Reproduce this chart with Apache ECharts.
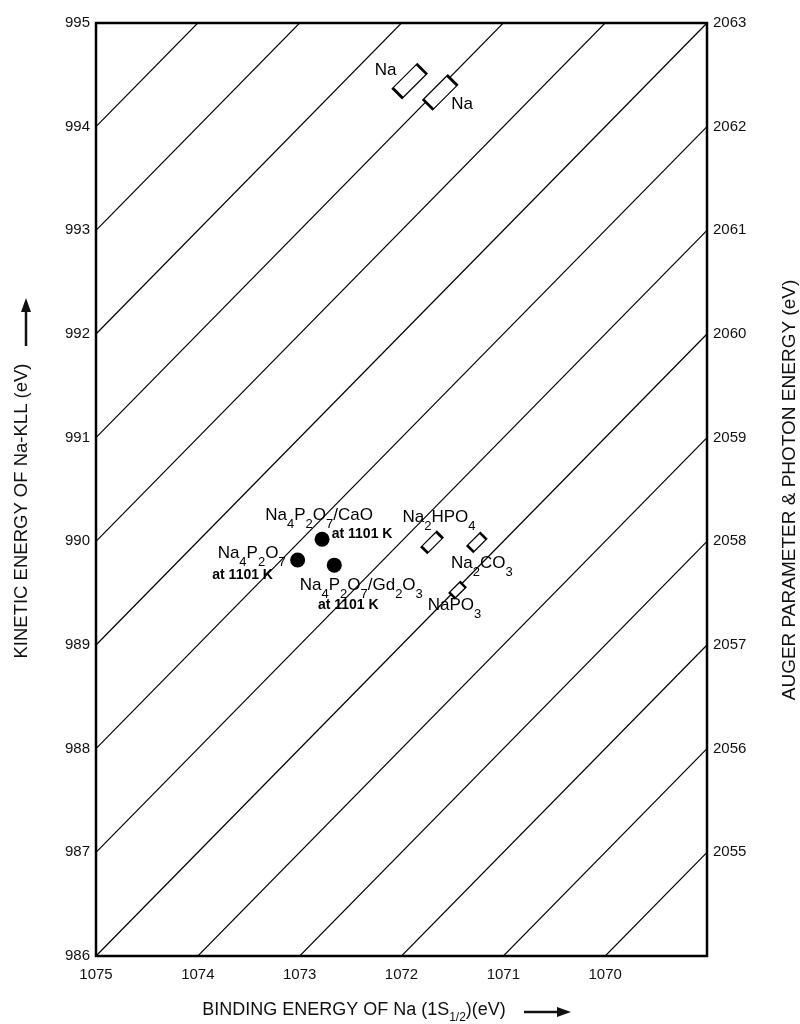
<!DOCTYPE html>
<html>
<head>
<meta charset="utf-8">
<title>Na Wagner plot</title>
<script src="https://cdn.jsdelivr.net/npm/echarts@6/dist/echarts.min.js"></script>
<style>
  html, body { margin: 0; padding: 0; background: #fff; }
  #main { width: 800px; height: 1024px; }
</style>
</head>
<body>
<div id="main"></div>
<script>
// axis ranges / ticks
var beMin = 1069, beMax = 1075;
var keMin = 986, keMax = 995;
var augMin = 2054, augMax = 2063;

// diagonal lines of constant KE + BE
var lineSums = [2056, 2057, 2058, 2059, 2060, 2061, 2062, 2063, 2064, 2065, 2066, 2067, 2068, 2069];

// open boxes (reference compounds)
var boxNames = ['Na', 'Na2', 'Na2HPO4', 'Na2CO3', 'NaPO3'];
var boxBE = [1071.92, 1071.62, 1071.70, 1071.26, 1071.45];
var boxKE = [994.44, 994.33, 989.99, 989.99, 989.53];

// filled dots (samples at 1101 K)
var dotNames = ['Na4P2O7', 'Na4P2O7/CaO', 'Na4P2O7/Gd2O3'];
var dotBE = [1073.02, 1072.78, 1072.66];
var dotKE = [989.82, 990.02, 989.77];

var FONT = 'Liberation Sans, Arial, sans-serif';

// label text (rich)
var richText = {
  'Na': '{n|Na}',
  'Na2': '{n|Na}',
  'Na2HPO4': '{n|Na}{s|2}{n|HPO}{s|4}',
  'Na2CO3': '{n|Na}{s|2}{n|CO}{s|3}',
  'NaPO3': '{n|NaPO}{s|3}',
  'Na4P2O7': '{n|Na}{s|4}{n|P}{s|2}{n|O}{s|7}',
  'Na4P2O7/CaO': '{n|Na}{s|4}{n|P}{s|2}{n|O}{s|7}{n|/CaO}',
  'Na4P2O7/Gd2O3': '{n|Na}{s|4}{n|P}{s|2}{n|O}{s|7}{n|/Gd}{s|2}{n|O}{s|3}'
};
var rich = {
  n: { fontSize: 17, fontFamily: FONT, color: '#000', lineHeight: 32, verticalAlign: 'middle', textBorderWidth: 0 },
  s: { fontSize: 13, fontFamily: FONT, color: '#000', lineHeight: 13, verticalAlign: 'bottom', textBorderWidth: 0 }
};

// box sizes and label offsets (style only)
var boxStyle = {
  'Na': { size: [34, 14], off: [-24, -11] },
  'Na2': { size: [34, 14], off: [22, 12] },
  'Na2HPO4': { size: [21, 9], off: [7, -25] },
  'Na2CO3': { size: [18, 9], off: [5, 21] },
  'NaPO3': { size: [15, 8], off: [-3, 15] }
};
var dotStyle = {
  'Na4P2O7': { off: [-46, -7], off2: [-55, 15] },
  'Na4P2O7/CaO': { off: [-3, -24], off2: [40, -5] },
  'Na4P2O7/Gd2O3': { off: [27, 20], off2: [14, 40] }
};

var series = [];

lineSums.forEach(function (s) {
  series.push({
    type: 'line',
    silent: true,
    symbol: 'none',
    clip: true,
    lineStyle: { color: '#000', width: 1.2 },
    data: [[beMax, s - beMax], [beMin, s - beMin]],
    z: 1
  });
});

var boxData = boxNames.map(function (name, i) {
  var st = boxStyle[name];
  return {
    name: name,
    value: [boxBE[i], boxKE[i]],
    symbolSize: st.size,
    label: { offset: st.off }
  };
});
series.push({
  type: 'scatter',
  symbol: 'rect',
  symbolRotate: 45,
  itemStyle: { color: '#fff', borderColor: '#000', borderWidth: 1.8, opacity: 1 },
  label: {
    show: true,
    position: 'inside',
    textBorderWidth: 0,
    formatter: function (p) { return richText[p.name]; },
    rich: rich
  },
  data: boxData,
  z: 3
});

var dotData = dotNames.map(function (name, i) {
  return { name: name, value: [dotBE[i], dotKE[i]], label: { offset: dotStyle[name].off } };
});
series.push({
  type: 'scatter',
  symbol: 'circle',
  symbolSize: 15,
  itemStyle: { color: '#000', opacity: 1 },
  label: {
    show: true,
    position: 'inside',
    textBorderWidth: 0,
    formatter: function (p) { return richText[p.name]; },
    rich: rich
  },
  data: dotData,
  z: 3
});
// second label line "at 1101 K"
series.push({
  type: 'scatter',
  symbolSize: 0,
  silent: true,
  itemStyle: { opacity: 1 },
  label: {
    show: true,
    position: 'inside',
    formatter: 'at 1101 K',
    fontFamily: FONT,
    fontSize: 14,
    fontWeight: 'bold',
    color: '#000',
    textBorderWidth: 0
  },
  data: dotNames.map(function (name, i) {
    return { name: name, value: [dotBE[i], dotKE[i]], label: { offset: dotStyle[name].off2 } };
  }),
  z: 3
});

var myChart = echarts.init(document.getElementById('main'));
var option = {
  animation: false,
  backgroundColor: '#fff',
  grid: {
    left: 96, right: 93, top: 23, bottom: 68,
    show: true, borderColor: '#000', borderWidth: 2.5, backgroundColor: 'transparent'
  },
  xAxis: {
    type: 'value', inverse: true, min: beMin, max: beMax, interval: 1,
    axisLine: { show: false }, axisTick: { show: false }, splitLine: { show: false },
    axisLabel: {
      margin: 11, fontSize: 15, fontFamily: FONT, color: '#111',
      formatter: function (v) { return v === beMin ? '' : v; }
    }
  },
  yAxis: [{
    type: 'value', min: keMin, max: keMax, interval: 1,
    axisLine: { show: false }, axisTick: { show: false }, splitLine: { show: false },
    axisLabel: { margin: 6, fontSize: 15, fontFamily: FONT, color: '#111' }
  }, {
    type: 'value', position: 'right', min: augMin, max: augMax, interval: 1,
    axisLine: { show: false }, axisTick: { show: false }, splitLine: { show: false },
    axisLabel: {
      margin: 6, fontSize: 15, fontFamily: FONT, color: '#111',
      formatter: function (v) { return v === augMin ? '' : v; }
    }
  }],
  graphic: [
    {
      type: 'text', x: 22, y: 511, rotation: Math.PI / 2,
      style: {
        text: 'KINETIC ENERGY OF Na-KLL (eV)', fontSize: 18.5, fontFamily: FONT, fill: '#111',
        textAlign: 'center', textVerticalAlign: 'middle'
      }
    },
    // up arrow beside left title
    { type: 'line', shape: { x1: 26, y1: 346, x2: 26, y2: 306 }, style: { stroke: '#111', lineWidth: 2.5 } },
    { type: 'polygon', shape: { points: [[26, 298], [21, 312], [31, 312]] }, style: { fill: '#111' } },
    {
      type: 'text', x: 354, y: 1010,
      style: {
        text: '{t|BINDING ENERGY OF Na (1S}{s|1/2}{t|)(eV)}',
        rich: {
          t: { fontSize: 18, fontFamily: FONT, fill: '#111', lineHeight: 28, verticalAlign: 'middle' },
          s: { fontSize: 12, fontFamily: FONT, fill: '#111', lineHeight: 12, verticalAlign: 'bottom' }
        },
        textAlign: 'center', textVerticalAlign: 'middle'
      }
    },
    // right arrow beside bottom title
    { type: 'line', shape: { x1: 524, y1: 1012, x2: 562, y2: 1012 }, style: { stroke: '#111', lineWidth: 2.5 } },
    { type: 'polygon', shape: { points: [[571, 1012], [557, 1007], [557, 1017]] }, style: { fill: '#111' } },
    {
      type: 'text', x: 790, y: 490, rotation: Math.PI / 2,
      style: {
        text: 'AUGER PARAMETER & PHOTON ENERGY (eV)', fontSize: 19, fontFamily: FONT, fill: '#111',
        textAlign: 'center', textVerticalAlign: 'middle'
      }
    }
  ],
  series: series
};
myChart.setOption(option);
</script>
</body>
</html>
